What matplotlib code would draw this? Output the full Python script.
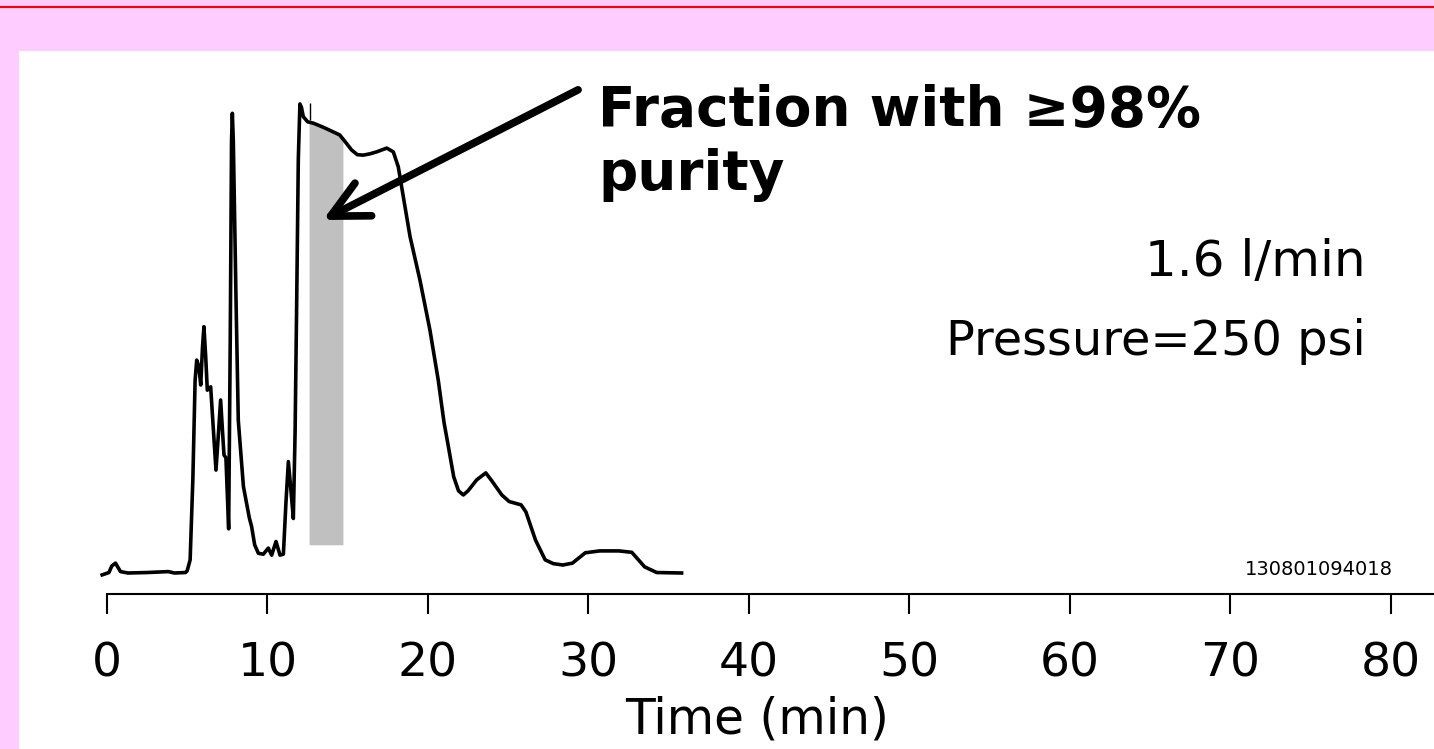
import numpy as np
import matplotlib
matplotlib.use("Agg")
import matplotlib.pyplot as plt
from matplotlib.patches import Rectangle
from matplotlib.lines import Line2D

plt.rcParams['font.family'] = ['DejaVu Sans']

# chromatogram trace (time in min, detector signal in % of max)
time_min = [-0.3, 0.12, 0.3, 0.53, 0.84, 1.31, 2.5, 3.82, 4.2, 4.89, 5.0, 5.18, 5.35, 5.49,
            5.59, 5.72, 5.84, 5.95, 6.04, 6.15, 6.25, 6.46, 6.6, 6.79, 6.95, 7.08, 7.2, 7.29,
            7.41, 7.58, 7.68, 7.76, 7.81, 7.87, 8.04, 8.18, 8.5, 8.87, 9.01, 9.2, 9.43, 9.74,
            10.05, 10.26, 10.53, 10.78, 10.99, 11.15, 11.3, 11.45, 11.61, 11.72, 11.82, 11.92,
            12.02, 12.12, 12.23, 12.5, 12.86, 13.5, 14.0, 14.5, 14.9, 15.24, 15.6, 15.97, 16.4,
            16.8, 17.43, 17.84, 18.15, 18.46, 18.88, 19.5, 20.12, 20.64, 21.0, 21.27, 21.6,
            21.9, 22.2, 22.5, 23.03, 23.6, 24.0, 24.6, 25.06, 25.8, 26.1, 26.7, 27.3, 27.8,
            28.4, 29.0, 29.8, 30.7, 31.9, 32.7, 33.5, 34.25, 35.8]
signal = [-0.4, 0.1, 1.5, 2.1, 0.3, 0.0, 0.1, 0.3, 0.0, 0.1, 0.5, 2.8, 20, 41,
          45.3, 44, 40, 48, 52.4, 46, 38.9, 39.6, 32, 21.9, 30, 36.8, 30, 25.1,
          24.5, 9.4, 50, 92, 97.8, 92, 58, 32.5, 18.4, 11.7, 9.9, 6, 4.2, 4.0,
          5.3, 3.8, 6.7, 3.8, 4.0, 15, 23.7, 18, 11.6, 30, 58, 88,
          99.8, 99, 97.1, 96, 95.7, 94.8, 94, 93.2, 91.5, 90, 89, 88.9, 89.2,
          89.6, 90.4, 89.6, 86.4, 80.1, 71.6, 62.3, 51.7, 41, 32, 26.9, 20.5,
          17.5, 16.6, 17.5, 19.8, 21.3, 19.5, 16.6, 15.2, 14.5, 13, 7, 2.8, 2.0,
          1.7, 2.1, 4.3, 4.7, 4.7, 4.4, 1.3, 0.1, 0.0]

# collected fraction (min) and its lower edge
fraction_start = 12.59
fraction_end = 14.70
fraction_floor = 6.0

ticks = [0, 10, 20, 30, 40, 50, 60, 70, 80]
flow_text = "1.6 l/min"
pressure_text = "Pressure=250 psi"
run_id = "130801094018"

W, H = 1434, 749
fig = plt.figure(figsize=(W / 100, H / 100), dpi=100, facecolor='#FFCCFF')


def fx(px):
    return px / W


def fy(py):
    return 1 - py / H


# white panel and red top rule
fig.patches.append(Rectangle((fx(19), 0), 1 - fx(19), fy(51), transform=fig.transFigure,
                             facecolor='white', edgecolor='none', zorder=-10))
fig.lines.append(Line2D([0, 1], [fy(7), fy(7)], transform=fig.transFigure, color='red', lw=1.5))

ax = fig.add_axes([fx(60), fy(594), fx(1434) - fx(60), fy(51) - fy(594)])
ax.set_facecolor('none')
ax.set_xlim(-2.928, 82.68)
ax.set_ylim(-4.468, 111.06)

t_frac = np.linspace(fraction_start, fraction_end, 50)
ax.fill_between(t_frac, fraction_floor, np.interp(t_frac, time_min, signal),
                color='#C0C0C0', lw=0, zorder=1)
ax.vlines(12.65, 96.4, 100, color='black', lw=1, zorder=3)
ax.plot(time_min, signal, color='black', lw=2.6, solid_joinstyle='round', zorder=2)

for s in ['top', 'right', 'left']:
    ax.spines[s].set_visible(False)
ax.spines['bottom'].set_linewidth(1.5)
ax.spines['bottom'].set_bounds(0, 82.68)
ax.set_yticks([])
ax.set_xticks(ticks)
ax.set_xticklabels([str(t) for t in ticks])
ax.tick_params(axis='x', direction='out', length=14.4, width=1.5, pad=20, labelsize=34)

ax.annotate('', xy=(13.46, 75.1), xytext=(29.35, 102.8),
            arrowprops=dict(arrowstyle='->,head_length=1.2,head_width=0.6', lw=5.5,
                            color='black', mutation_scale=22, shrinkA=0, shrinkB=0))

fig.text(fx(598), fy(126), "Fraction with \u226598%", fontsize=39.5, fontweight='bold',
         ha='left', va='baseline')
fig.text(fx(598), fy(190), "purity", fontsize=39.5, fontweight='bold', ha='left', va='baseline')
fig.text(fx(1366), fy(276), flow_text, fontsize=36, ha='right', va='baseline')
fig.text(fx(1366), fy(355), pressure_text, fontsize=34.5, ha='right', va='baseline')
fig.text(fx(1393), fy(575), run_id, fontsize=14, ha='right', va='baseline')
fig.text(fx(757), fy(733), "Time (min)", fontsize=35, ha='center', va='baseline')

fig.savefig('out.png', dpi=100, facecolor=fig.get_facecolor())
